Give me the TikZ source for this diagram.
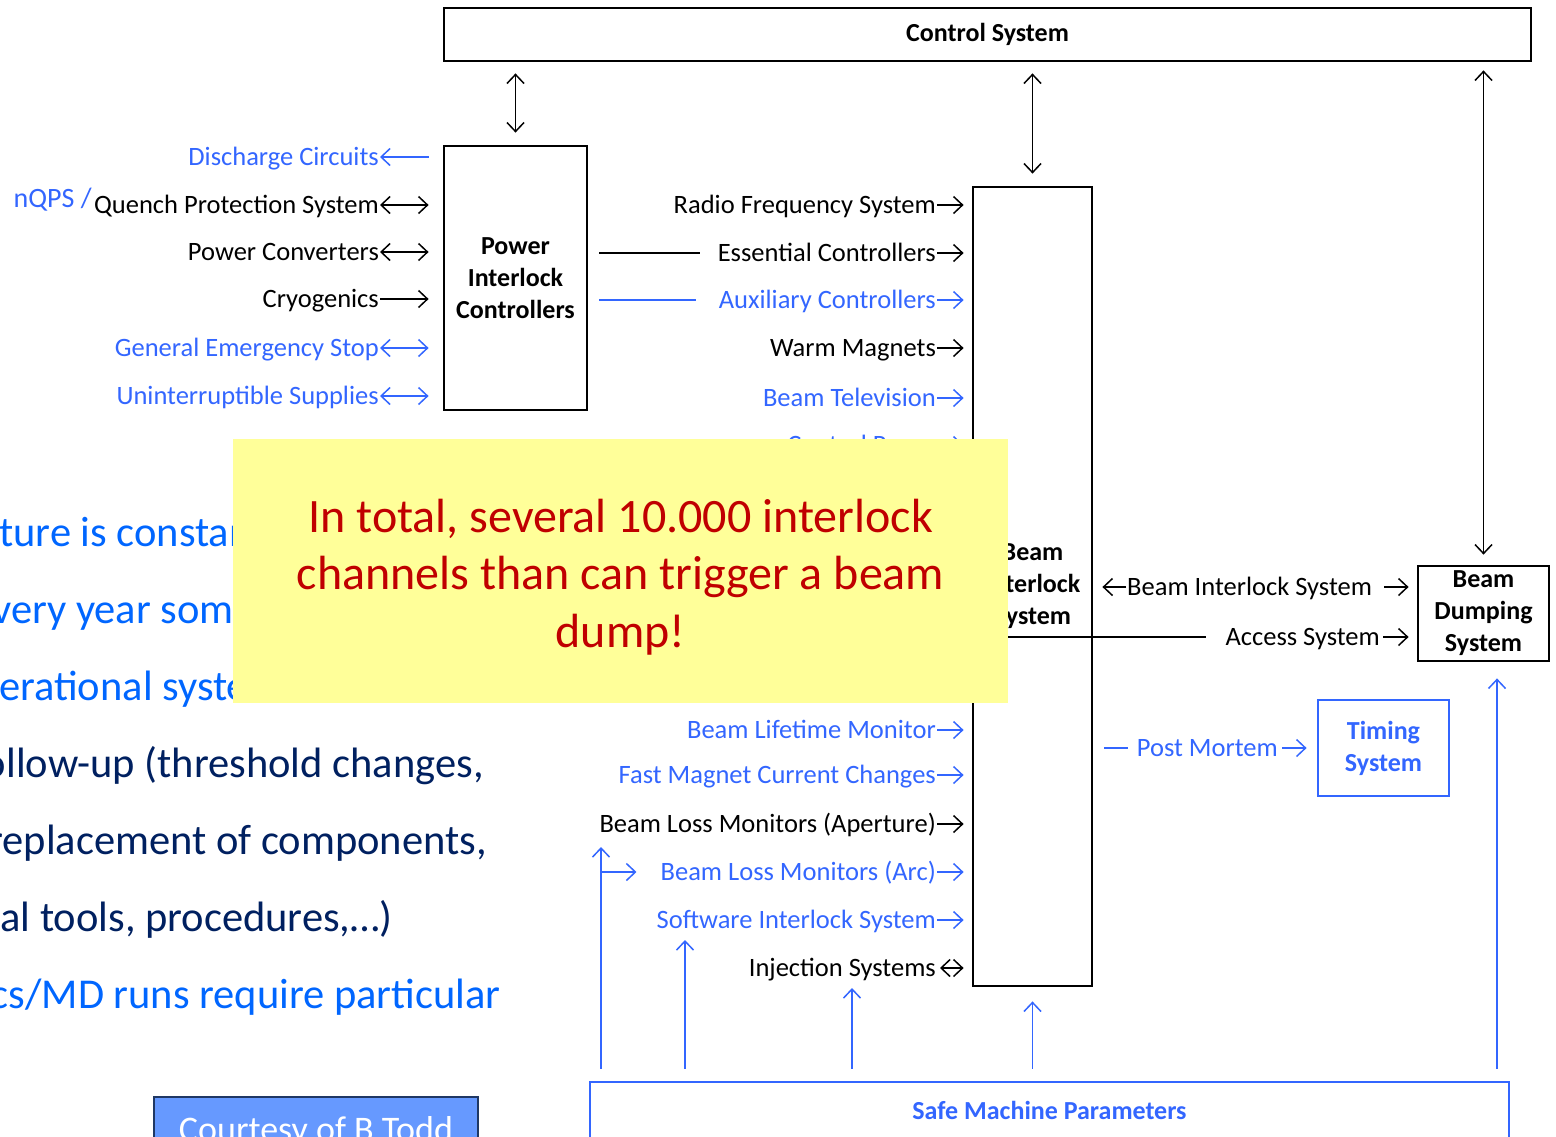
\documentclass[tikz,border=0pt]{standalone}
\usepackage{fontspec}
\setmainfont{Carlito}
\usetikzlibrary{arrows.meta,calc}
\definecolor{lblue}{HTML}{3366FF}
\definecolor{tblue}{HTML}{0066FF}
\definecolor{navy}{HTML}{002060}
\definecolor{dred}{HTML}{C00000}
\definecolor{notefill}{HTML}{FFFF99}
\definecolor{cfill}{HTML}{6699FF}
\definecolor{cedge}{HTML}{1F3864}

\begin{document}
\begin{tikzpicture}[x=1pt,y=-1pt,
  >={Straight Barb[length=9pt,width=17pt]},
  box/.style={draw, line width=2.8pt, align=center, inner sep=0pt,
    font=\bfseries\fontsize{26}{32}\selectfont},
  bbox/.style={box, draw=lblue, text=lblue},
  lab/.style={font=\fontsize{26.5}{31}\selectfont, text height=16pt, text depth=0pt, inner sep=1pt},
  blab/.style={lab, text=lblue},
  con/.style={line width=1.5pt},
  bcon/.style={con, draw=lblue},
  slide/.style={font=\fontsize{42.5}{50}\selectfont, inner sep=0pt},
  notetext/.style={font=\fontsize{48}{57}\selectfont, text=dred, inner sep=0pt, anchor=base}
]
\useasboundingbox (0,0) rectangle (1556,1136);
\clip (0,0) rectangle (1556,1136);

% ---------- main blocks ----------
\node[box, minimum width=1087pt, minimum height=53pt] (cs) at (987.5,34.5) {Control System};
\node[box, minimum width=143pt, minimum height=264pt] (pic) at (515.5,278) {Power\\Interlock\\Controllers};
\node[box, minimum width=119pt, minimum height=799pt] (bis) at (1032.5,586.5) {Beam\\Interlock\\System};
\node[box, minimum width=131pt, minimum height=95pt] (bds) at (1483.5,613.5) {Beam\\Dumping\\System};
\node[bbox, minimum width=131pt, minimum height=96pt] (tim) at (1383.5,748) {Timing\\System};
\node[bbox, minimum width=919pt, minimum height=56pt] (smp) at (1049.5,1110) {Safe Machine Parameters};

% ---------- control system links ----------
\draw[con, <->, shorten <=11pt, shorten >=12pt] (cs.south -| pic.north) -- (pic.north);
\draw[con, <->, shorten <=11pt, shorten >=12pt] (cs.south -| bis.north) -- (bis.north);
\draw[con, <->, shorten <=8pt, shorten >=10pt] (cs.south -| bds.north) -- (bds.north);

% ---------- inputs of the power interlock controllers ----------
\node[blab, anchor=east] (dc)  at (380,157) {Discharge Circuits};
\node[lab,  anchor=east] (qps) at (380,205) {Quench Protection System};
\node[lab, text=lblue, anchor=base east, font=\fontsize{28}{32}\selectfont] (nqps)
  at ([yshift=6pt]qps.base west) {nQPS /};
\node[lab,  anchor=east] (pc)  at (380,252) {Power Converters};
\node[lab,  anchor=east] (cry) at (380,299) {Cryogenics};
\node[blab, anchor=east] (ges) at (380,348) {General Emergency Stop};
\node[blab, anchor=east] (ups) at (380,396) {Uninterruptible Supplies};

\draw[bcon, <-,  shorten >=14pt] (dc.east)  -- (dc.east -| pic.west);
\draw[con,  <->, shorten >=14pt] (qps.east) -- (qps.east -| pic.west);
\draw[con,  <->, shorten >=14pt] (pc.east)  -- (pc.east -| pic.west);
\draw[con,  ->,  shorten >=14pt] (cry.east) -- (cry.east -| pic.west);
\draw[bcon, <->, shorten >=14pt] (ges.east) -- (ges.east -| pic.west);
\draw[bcon, <->, shorten >=14pt] (ups.east) -- (ups.east -| pic.west);

% ---------- inputs of the beam interlock system ----------
\node[lab,  anchor=east] (rf)   at (937,205) {Radio Frequency System};
\node[lab,  anchor=east] (ec)   at (937,253) {Essential Controllers};
\node[blab, anchor=east] (ac)   at (937,300) {Auxiliary Controllers};
\node[lab,  anchor=east] (wm)   at (937,348) {Warm Magnets};
\node[blab, anchor=east] (btv)  at (937,398) {Beam Television};
\node[blab, anchor=east] (cr)   at (937,445) {Control Room};
\node[blab, anchor=east] (blt)  at (937,730) {Beam Lifetime Monitor};
\node[blab, anchor=east] (fmcc) at (937,775) {Fast Magnet Current Changes};
\node[lab,  anchor=east] (blma) at (937,824) {Beam Loss Monitors (Aperture)};
\node[blab, anchor=east] (arc)  at (937,872) {Beam Loss Monitors (Arc)};
\node[blab, anchor=east] (sis)  at (937,920) {Software Interlock System};
\node[lab,  anchor=east] (inj)  at (937,968) {Injection Systems};

\draw[con,  shorten <=11pt, shorten >=17pt] (ec.west -| pic.east) -- (ec.west);
\draw[bcon, shorten <=11pt, shorten >=22pt] (ac.west -| pic.east) -- (ac.west);

\foreach \n in {rf,ec,wm,blma}
  \draw[con, ->, shorten >=8pt] (\n.east) -- (\n.east -| bis.west);
\foreach \n in {ac,btv,cr,blt,fmcc,arc,sis}
  \draw[bcon, ->, shorten >=8pt] (\n.east) -- (\n.east -| bis.west);
\draw[con, <->, shorten <=3pt, shorten >=8pt] (inj.east) -- (inj.east -| bis.west);

% ---------- outputs of the beam interlock system ----------
\node[lab, anchor=west] (bil) at (1126,587) {Beam Interlock System};
\draw[con, ->, shorten >=9pt] (bil.west) -- (bil.west -| bis.east);
\draw[con, ->, shorten <=11pt, shorten >=8pt] (bil.east) -- (bil.east -| bds.west);

\node[lab, anchor=east] (acc) at (1381,637) {Access System};
\draw[con, shorten >=18pt] (acc.west -| bis.west) -- (acc.west);
\draw[con, ->, shorten <=2pt, shorten >=8pt] (acc.east) -- (acc.east -| bds.west);

\node[blab, anchor=east] (pm) at (1279,748) {Post Mortem};
\draw[bcon, shorten <=11pt, shorten >=8pt] (pm.west -| bis.east) -- (pm.west);
\draw[bcon, ->, shorten <=3pt, shorten >=10pt] (pm.east) -- (pm.east -| tim.west);

% ---------- safe machine parameters distribution ----------
\coordinate (v1)  at (601,847);
\coordinate (v1f) at (601,872);
\coordinate (v2)  at (685,940);
\coordinate (v3)  at (852,988);
\coordinate (v5)  at ([xshift=13.5pt]bds.south);
\draw[bcon, ->, shorten <=12pt] (smp.north -| v1) -- (v1);
\draw[bcon, ->, shorten >=23pt] (v1f) -- (v1f -| arc.west);
\draw[bcon, ->, shorten <=12pt] (smp.north -| v2) -- (v2);
\draw[bcon, ->, shorten <=12pt] (smp.north -| v3) -- (v3);
\draw[bcon, ->, shorten <=12pt, shorten >=14pt] (smp.north -| bis.south) -- (bis.south);
\draw[bcon, ->, shorten <=12pt, shorten >=16pt] (smp.north -| v5) -- (v5);

% ---------- slide text behind the note ----------
\node[slide, text=tblue, anchor=base west] (s1) at (-1,546)  {ture is constant};
\node[slide, text=tblue, anchor=base west] (s2) at (-8,623)  {very year some};
\node[slide, text=tblue, anchor=base west] (s3) at (-1,700)  {erational systems};
\node[slide, text=navy,  anchor=base east] (s4) at (484,777) {follow-up (threshold changes,};
\node[slide, text=navy,  anchor=base east] (s5) at (487,854) {replacement of components,};
\node[slide, text=navy,  anchor=base east] (s6) at (393,931) {al tools, procedures,…)};
\node[slide, text=tblue, anchor=base east] (s7) at (501,1008) {cs/MD runs require particular};

% ---------- highlighted note ----------
\node[fill=notefill, minimum width=775pt, minimum height=264pt, inner sep=0pt] (note) at (620.5,571) {};
\node[notetext] (n1) at (620.5,532)   {In total, several 10.000 interlock};
\node[notetext] (n2) at (620.5,589.5) {channels than can trigger a beam};
\node[notetext] (n3) at (620.5,647)   {dump!};

% ---------- credit ----------
\node[draw=cedge, fill=cfill, line width=1.5pt, minimum width=324pt, minimum height=66pt,
  text=white, font=\fontsize{36}{40}\selectfont, text height=23pt, text depth=0pt, inner sep=0pt]
  (credit) at (316,1130) {Courtesy of B Todd};
\end{tikzpicture}
\end{document}
